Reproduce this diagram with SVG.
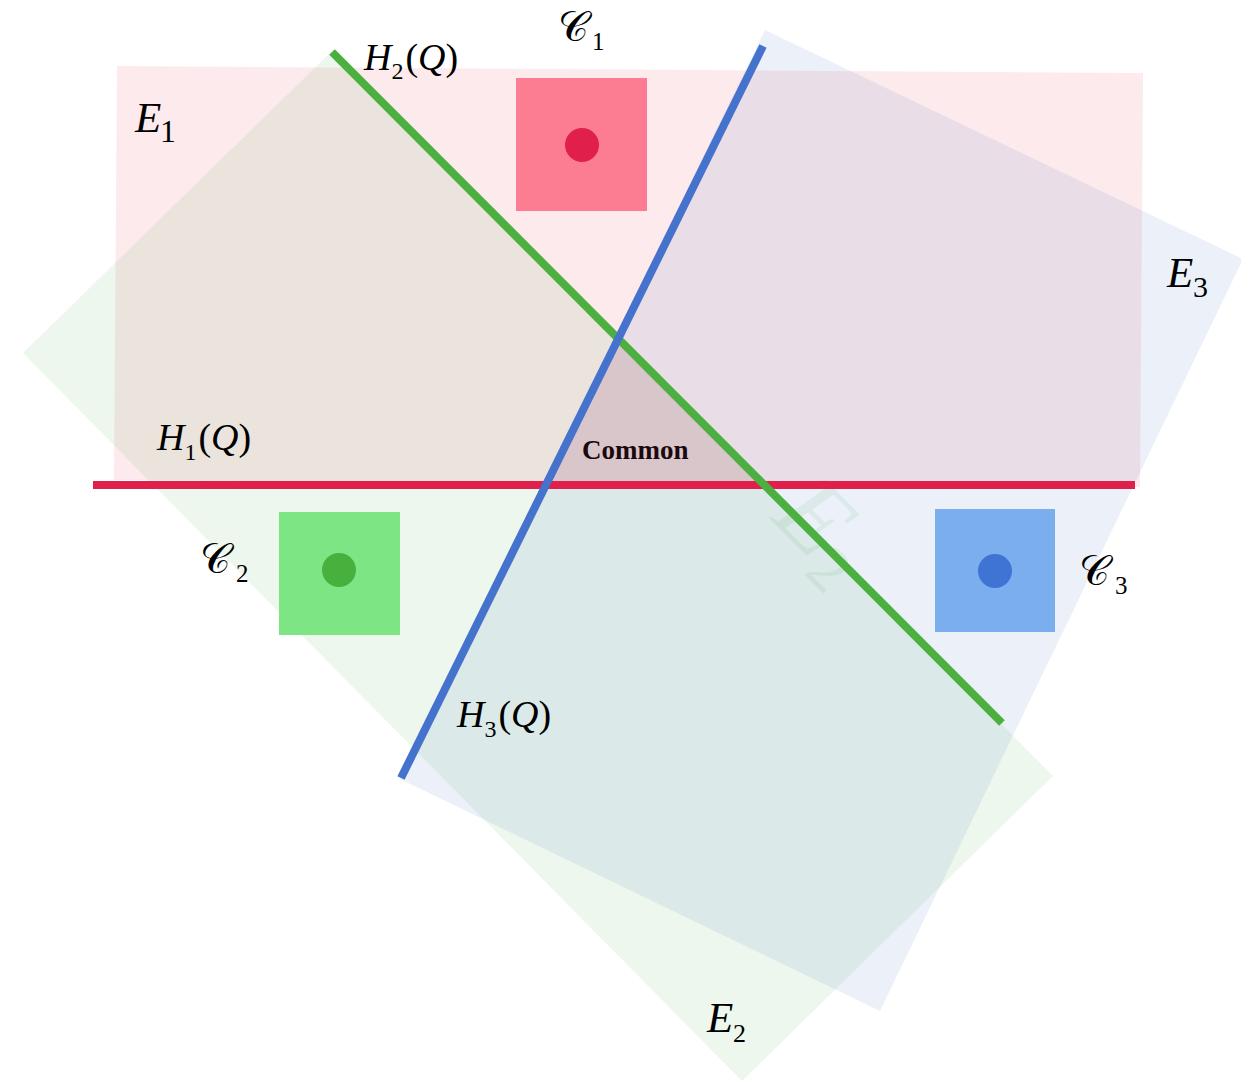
<svg xmlns="http://www.w3.org/2000/svg" width="1241" height="1082" viewBox="0 0 1241 1082">
<style>
.lbl{font-family:"Liberation Serif","Times New Roman",serif;font-style:italic;fill:#000}
.sub{font-family:"Liberation Serif","Times New Roman",serif;font-style:normal;fill:#000}
.up{font-style:normal}
.scr{font-family:"DejaVu Serif","Noto Sans",serif;font-style:normal;fill:#000}
.line{stroke-width:8;fill:none;stroke-linecap:butt}
</style>
<rect width="1241" height="1082" fill="#ffffff"/>
<g id="E1">
<polygon points="117,66 1143,73 1140,487 114,480" fill="#dc143c" fill-opacity="0.09"/>
<text class="lbl" x="135" y="132" font-size="43">E</text><text class="sub" x="160" y="142" font-size="32">1</text>
</g>
<g id="E2">
<polygon points="23,353 333,50 1053,776 742,1081" fill="#4caf50" fill-opacity="0.1"/>
<text class="lbl" x="707" y="1032" font-size="43">E</text><text class="sub" x="733" y="1042" font-size="26">2</text>
<text class="lbl" transform="translate(803,552) rotate(45)" text-anchor="middle" font-size="102" style="fill:#4caf50;fill-opacity:0.1">E<tspan class="up" font-size="64" dy="15" style="fill:#4caf50">2</tspan></text>
</g>
<g id="E3">
<polygon points="765,30 1243,259 880,1011 400,779" fill="#4472c4" fill-opacity="0.1"/>
<text class="lbl" x="1167" y="287" font-size="43">E</text><text class="sub" x="1193" y="297" font-size="30">3</text>
</g>
<g id="Common">
<polygon points="618,339 546,485 764,485" fill="#dc143c" fill-opacity="0.09"/>
<text x="582" y="459" font-family="Liberation Serif, Times New Roman, serif" font-weight="bold" font-size="27" fill="#1a0a0e">Common</text>
</g>
<g id="connectors">
<line id="H1" class="line" x1="93" y1="485" x2="1135" y2="485" stroke="#e0204a"/>
<line id="H2" class="line" x1="332" y1="52" x2="1002" y2="723" stroke="#4cb040"/>
<line id="H3" class="line" x1="763" y1="46" x2="401" y2="778" stroke="#4472cc"/>
</g>
<g id="C1">
<rect x="516" y="78" width="131" height="133" fill="#fc7d92"/>
<circle cx="582" cy="145" r="17" fill="#e0204a"/>
<text class="scr" x="558" y="41" font-size="42">𝒞</text><text class="sub" x="592" y="50" font-size="25">1</text>
</g>
<g id="C2">
<rect x="279" y="512" width="121" height="123" fill="#7ee584"/>
<circle cx="339" cy="570" r="17" fill="#48b03c"/>
<text class="scr" x="200" y="573" font-size="42">𝒞</text><text class="sub" x="236" y="582" font-size="25">2</text>
</g>
<g id="C3">
<rect x="935" y="509" width="120" height="123" fill="#7aaeee"/>
<circle cx="995" cy="571" r="17" fill="#3f73d4"/>
<text class="scr" x="1079" y="585" font-size="42">𝒞</text><text class="sub" x="1115" y="594" font-size="25">3</text>
</g>
<g id="H1Q"><text class="lbl" x="157" y="450" font-size="38">H<tspan class="sub" font-size="24" dy="10">1</tspan><tspan class="up" dy="-10" dx="2">(</tspan>Q<tspan class="up">)</tspan></text></g>
<g id="H2Q"><text class="lbl" x="364" y="70" font-size="38">H<tspan class="sub" font-size="24" dy="9">2</tspan><tspan class="up" dy="-9" dx="2">(</tspan>Q<tspan class="up">)</tspan></text></g>
<g id="H3Q"><text class="lbl" x="457" y="727" font-size="38">H<tspan class="sub" font-size="24" dy="10">3</tspan><tspan class="up" dy="-10" dx="2">(</tspan>Q<tspan class="up">)</tspan></text></g>
</svg>
